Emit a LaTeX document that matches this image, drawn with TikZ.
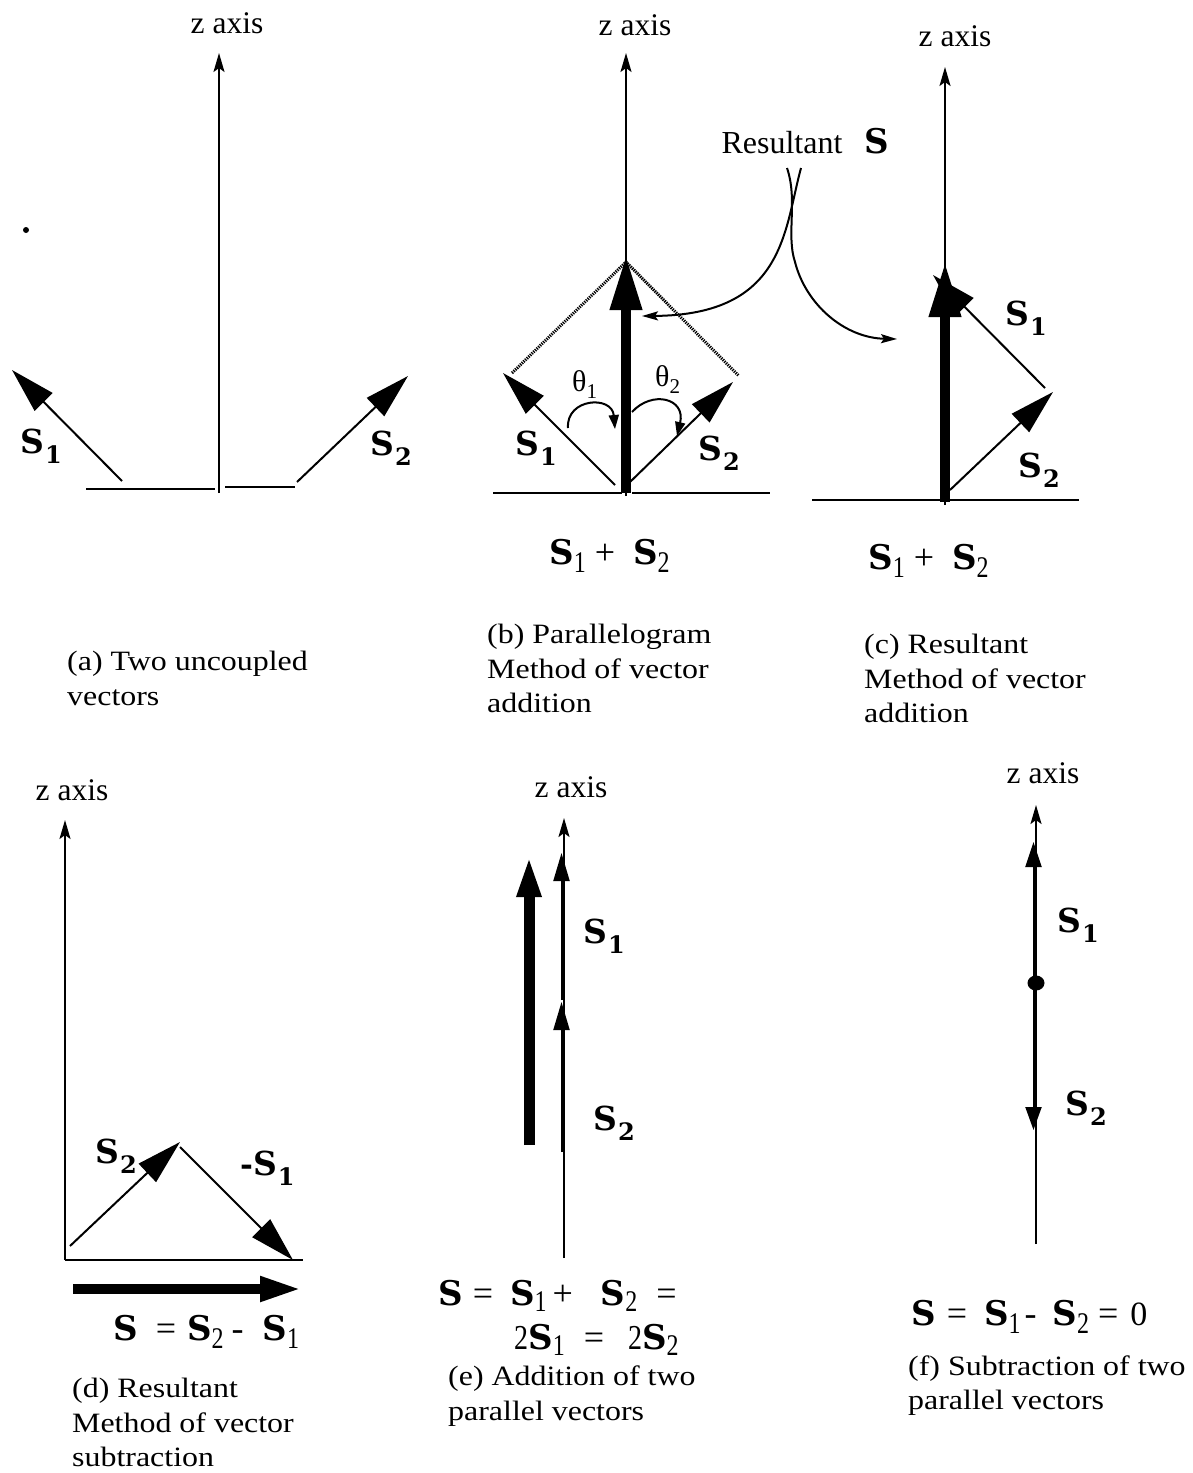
\documentclass[tikz,border=0pt]{standalone}
\usepackage{fontspec}
\setmainfont{Liberation Serif}
\newfontfamily\capfont{Liberation Serif}[FakeStretch=1.14]
\newfontfamily\narrowfont{Liberation Serif}[FakeStretch=0.8]
\newfontfamily\lblfont{DejaVu Serif}
\usetikzlibrary{arrows.meta}
\newcommand{\vlab}[1]{{\lblfont\bfseries\fontsize{33}{33}\selectfont S\kern1pt\raisebox{-10pt}{\fontsize{24}{24}\selectfont #1}}}
\newcommand{\eqS}{{\lblfont\bfseries\fontsize{34}{34}\selectfont S}}
\newcommand{\eqsb}[1]{\raisebox{-8pt}{\narrowfont\fontsize{30}{30}\selectfont #1}}
\newcommand{\eqsbh}[1]{\raisebox{-6pt}{\narrowfont\fontsize{30}{30}\selectfont #1}}
\newcommand{\eqop}[1]{{\fontsize{36}{36}\selectfont #1}}
\newcommand{\eqtwo}{{\narrowfont\fontsize{35}{35}\selectfont 2}}
\newcommand{\thlab}[1]{{\fontsize{30}{30}\selectfont θ\raisebox{-7pt}{\fontsize{21}{21}\selectfont #1}}}
\begin{document}
\begin{tikzpicture}[x=1pt,y=-1pt,
  axisln/.style={line width=2pt,-{Stealth[length=19pt,width=11pt,inset=4pt]}},
  vecln/.style={line width=2pt,-{Triangle[length=45pt,width=25pt]}},
  medarr/.style={line width=2pt,-{Triangle[length=28pt,width=16pt]}},
  baseln/.style={line width=2.5pt},
  thickarr/.style={line width=10pt,-{Triangle[length=55pt,width=30pt]}},
  thickarrsm/.style={line width=10pt,-{Triangle[length=42pt,width=23pt]}},
  dotln/.style={line width=3pt,dash pattern=on 1.3pt off 1pt},
  curvln/.style={line width=2pt,-{Stealth[length=16pt,width=9pt,inset=3pt]}},
  tharr/.style={line width=2pt,-{Triangle[length=14pt,width=10pt]}},
  lbl/.style={inner sep=0pt,anchor=base west},
  capt/.style={inner sep=0pt,anchor=base west,font=\capfont\fontsize{28}{35}\selectfont},
  zlbl/.style={inner sep=0pt,anchor=base,font=\fontsize{31.5}{31.5}\selectfont}]
\fill[white] (0,0) rectangle (1193,1473);
\useasboundingbox (0,0) rectangle (1193,1473);

% ---------------- (a) ----------------
\node[zlbl] (za) at (227,33) {z axis};
\coordinate (a-bot) at (219,493);
\coordinate (a-top) at (219,53);
\draw[axisln] (a-bot) -- (a-top);
\coordinate (a-bl1) at (86,489);  \coordinate (a-bl2) at (215,489);
\coordinate (a-br1) at (225,487); \coordinate (a-br2) at (295,487);
\draw[baseln] (a-bl1) -- (a-bl2);
\draw[baseln] (a-br1) -- (a-br2);
\coordinate (a-s1a) at (122,481); \coordinate (a-s1b) at (12,370);
\coordinate (a-s2a) at (297,482); \coordinate (a-s2b) at (408,376);
\draw[vecln] (a-s1a) -- (a-s1b);
\draw[vecln] (a-s2a) -- (a-s2b);
\node[lbl] (la1) at (20,453) {\vlab{1}};
\node[lbl] (la2) at (370,455) {\vlab{2}};
\fill (26,230) circle[radius=3];
\node[capt] (capa1) at (67,670) {(a) Two uncoupled};
\node[capt] (capa2) at (67,705) {vectors};

% ---------------- (b) ----------------
\node[zlbl] (zb) at (635,35) {z axis};
\coordinate (b-bot) at (626,496);
\coordinate (b-top) at (626,53);
\draw[axisln] (b-bot) -- (b-top);
\coordinate (b-bl1) at (493,493); \coordinate (b-bl2) at (622,493);
\coordinate (b-br1) at (632,493); \coordinate (b-br2) at (770,493);
\draw[baseln] (b-bl1) -- (b-bl2);
\draw[baseln] (b-br1) -- (b-br2);
\coordinate (b-p1) at (512,373);
\coordinate (b-p2) at (626,262);
\coordinate (b-p3) at (739,376);
\draw[dotln] (b-p1) -- (b-p2) -- (b-p3);
\coordinate (b-sa) at (626,493); \coordinate (b-sb) at (626,255);
\draw[thickarr] (b-sa) -- (b-sb);
\coordinate (b-s1a) at (615,485); \coordinate (b-s1b) at (503,373);
\coordinate (b-s2a) at (630,482); \coordinate (b-s2b) at (733,382);
\draw[vecln] (b-s1a) -- (b-s1b);
\draw[vecln] (b-s2a) -- (b-s2b);
\node[lbl] (lb1) at (515,455) {\vlab{1}};
\node[lbl] (lb2) at (698,460) {\vlab{2}};
\coordinate (t1a) at (568,428); \coordinate (t1b) at (615,429);
\draw[tharr] (t1a) .. controls (566,398) and (612,395) .. (t1b);
\coordinate (t2a) at (632,412); \coordinate (t2b) at (677,436);
\draw[tharr] (t2a) .. controls (652,390) and (686,398) .. (t2b);
\node[lbl] (th1) at (572,391) {\thlab{1}};
\node[lbl] (th2) at (655,386) {\thlab{2}};
\node[inner sep=0pt,anchor=base,font=\fontsize{32}{32}\selectfont] (res) at (782,153) {Resultant};
\node[inner sep=0pt,anchor=base] (resS) at (877,153) {\eqS};
\coordinate (cA0) at (801,168); \coordinate (cA1) at (642,316);
\coordinate (cB0) at (787,168); \coordinate (cBm) at (795,262); \coordinate (cB1) at (897,339);
\draw[curvln] (cA0) .. controls (784,230) and (785,315) .. (cA1);
\draw[curvln] (cB0) .. controls (798,200) and (786,235) .. (cBm) .. controls (806,305) and (845,338) .. (cB1);
\node[lbl] (eqb) at (549,564) {\eqS\eqsb{1}\hspace{9pt}\eqop{+}\hspace{18pt}\eqS\eqsb{2}};
\node[capt] (capb1) at (487,643) {(b) Parallelogram};
\node[capt] (capb2) at (487,678) {Method of vector};
\node[capt] (capb3) at (487,712) {addition};

% ---------------- (c) ----------------
\node[zlbl] (zc) at (955,46) {z axis};
\coordinate (c-bot) at (945,505);
\coordinate (c-top) at (945,67);
\draw[axisln] (c-bot) -- (c-top);
\coordinate (c-bl1) at (812,500); \coordinate (c-bl2) at (1079,500);
\draw[baseln] (c-bl1) -- (c-bl2);
\coordinate (c-sa) at (945,502); \coordinate (c-sb) at (945,262);
\draw[thickarr] (c-sa) -- (c-sb);
\coordinate (c-s2a) at (950,490); \coordinate (c-s2b) at (1053,392);
\coordinate (c-s1a) at (1045,388); \coordinate (c-s1b) at (933,275);
\draw[vecln] (c-s2a) -- (c-s2b);
\draw[vecln] (c-s1a) -- (c-s1b);
\node[lbl] (lc1) at (1005,325) {\vlab{1}};
\node[lbl] (lc2) at (1018,477) {\vlab{2}};
\node[lbl] (eqc) at (868,569) {\eqS\eqsb{1}\hspace{9pt}\eqop{+}\hspace{18pt}\eqS\eqsb{2}};
\node[capt] (capc1) at (864,653) {(c) Resultant};
\node[capt] (capc2) at (864,688) {Method of vector};
\node[capt] (capc3) at (864,722) {addition};

% ---------------- (d) ----------------
\node[zlbl] (zd) at (72,800) {z axis};
\coordinate (d-o) at (65,1260);
\coordinate (d-top) at (65,820);
\coordinate (d-r) at (303,1260);
\draw[axisln] (d-o) -- (d-top);
\draw[baseln] (d-o) -- (d-r);
\coordinate (d-s2a) at (70,1246); \coordinate (d-s2b) at (180,1142);
\coordinate (d-s1a) at (180,1147); \coordinate (d-s1b) at (293,1260);
\draw[vecln] (d-s2a) -- (d-s2b);
\draw[vecln] (d-s1a) -- (d-s1b);
\coordinate (d-sa) at (73,1289); \coordinate (d-sb) at (302,1289);
\draw[thickarrsm] (d-sa) -- (d-sb);
\node[lbl] (ld2) at (95,1163) {\vlab{2}};
\node[lbl] (ld1) at (240,1175) {{\lblfont\bfseries\fontsize{31}{31}\selectfont -}\vlab{1}};
\node[lbl] (eqd) at (113,1340) {\eqS\hspace{18pt}\eqop{=}\hspace{11pt}\eqS\eqsb{2}\hspace{8pt}\eqop{-}\hspace{19pt}\eqS\eqsb{1}};
\node[capt] (capd1) at (72,1397) {(d) Resultant};
\node[capt] (capd2) at (72,1432) {Method of vector};
\node[capt] (capd3) at (72,1466) {subtraction};

% ---------------- (e) ----------------
\node[zlbl] (ze) at (571,797) {z axis};
\coordinate (e-bot) at (564,1258);
\coordinate (e-top) at (564,818);
\draw[axisln] (e-bot) -- (e-top);
\coordinate (e-s2a) at (561.5,1152); \coordinate (e-s2b) at (561.5,1002);
\coordinate (e-s1a) at (561.5,1000); \coordinate (e-s1b) at (561.5,853);
\draw[medarr] (e-s2a) -- (e-s2b);
\draw[medarr] (e-s1a) -- (e-s1b);
\coordinate (e-sa) at (529,1145); \coordinate (e-sb) at (529,855);
\draw[line width=11pt,-{Triangle[length=42pt,width=22pt]}] (e-sa) -- (e-sb);
\node[lbl] (le1) at (583,943) {\vlab{1}};
\node[lbl] (le2) at (593,1130) {\vlab{2}};
\node[lbl] (eqe1) at (438,1305) {\eqS\hspace{10pt}\eqop{=}\hspace{17pt}\eqS\eqsbh{1}\hspace{6pt}\eqop{+}\hspace{28pt}\eqS\eqsbh{2}\hspace{19pt}\eqop{=}};
\node[lbl] (eqe2) at (514,1349) {\eqtwo\eqS\eqsbh{1}\hspace{19pt}\eqop{=}\hspace{24pt}\eqtwo\eqS\eqsbh{2}};
\node[capt] (cape1) at (448,1385) {(e) Addition of two};
\node[capt] (cape2) at (448,1420) {parallel vectors};

% ---------------- (f) ----------------
\node[zlbl] (zf) at (1043,783) {z axis};
\coordinate (f-bot) at (1036,1244);
\coordinate (f-top) at (1036,805);
\draw[axisln] (f-bot) -- (f-top);
\coordinate (f-o) at (1033.5,983);
\coordinate (f-s1b) at (1033.5,842);
\coordinate (f-s2b) at (1033.5,1130);
\draw[line width=2pt,-{Triangle[length=25pt,width=16pt]}] (f-o) -- (f-s1b);
\draw[line width=2pt,-{Triangle[length=23pt,width=16pt]}] (f-o) -- (f-s2b);
\fill (1036,983) ellipse[x radius=8.5,y radius=7.5];
\node[lbl] (lf1) at (1057,932) {\vlab{1}};
\node[lbl] (lf2) at (1065,1115) {\vlab{2}};
\node[lbl] (eqf) at (911,1325) {\eqS\hspace{11pt}\eqop{=}\hspace{17pt}\eqS\eqsb{1}\hspace{4pt}\eqop{-}\hspace{16pt}\eqS\eqsb{2}\hspace{9pt}\eqop{=}\hspace{12pt}{\fontsize{34}{34}\selectfont 0}};
\node[capt] (capf1) at (908,1375) {(f) Subtraction of two};
\node[capt] (capf2) at (908,1409) {parallel vectors};
\end{tikzpicture}
\end{document}
